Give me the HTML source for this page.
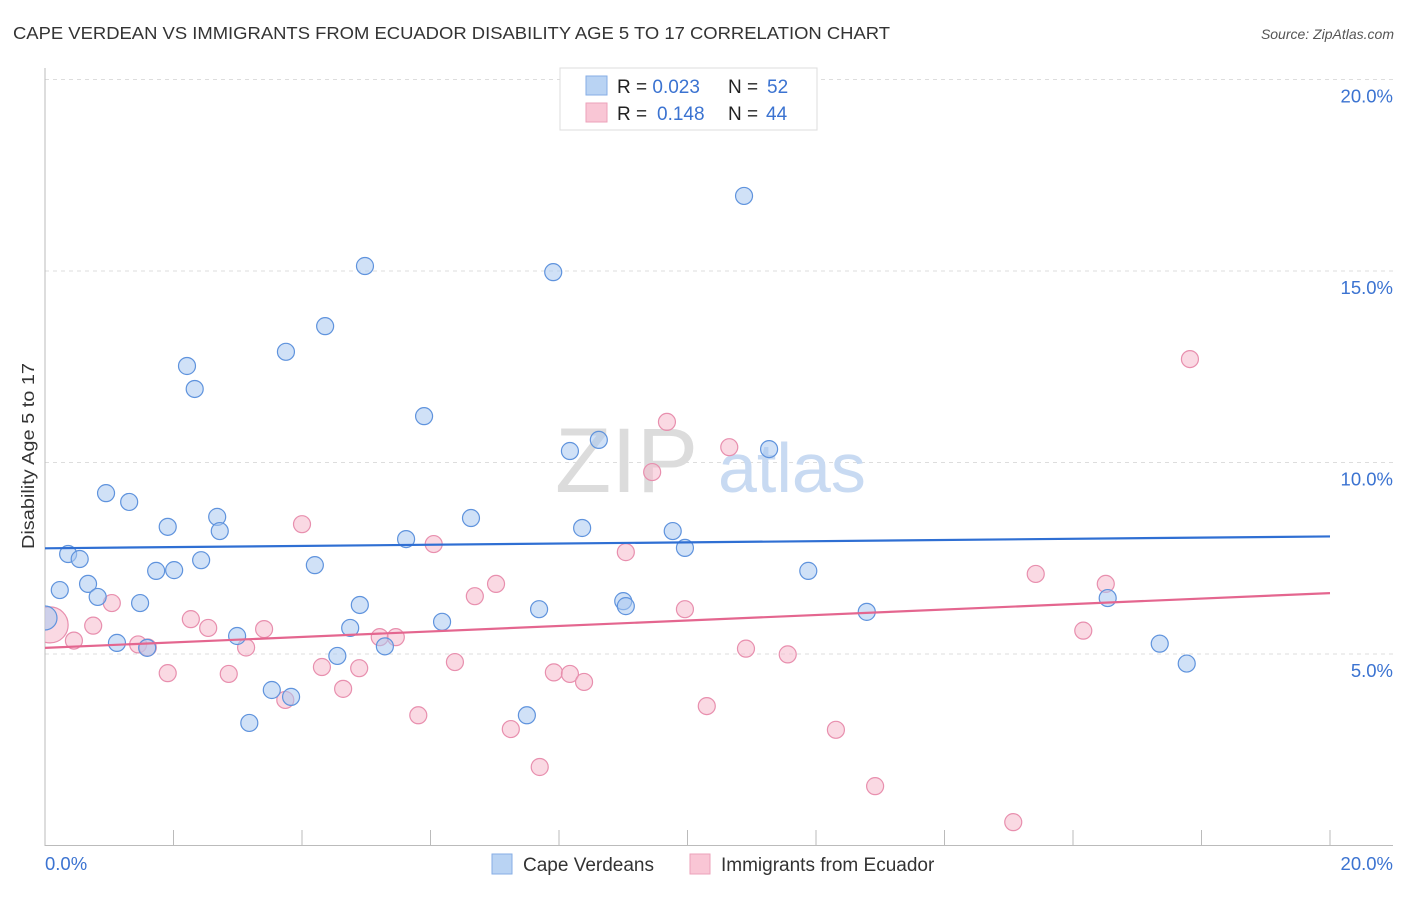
<!DOCTYPE html>
<html><head><meta charset="utf-8"><style>
body{margin:0;background:#fff;font-family:"Liberation Sans",sans-serif;}
svg text{font-family:"Liberation Sans",sans-serif;}
</style></head><body>
<svg id="chart" width="1406" height="892">
<text x="13" y="39" font-size="17.5" fill="#333" textLength="877" lengthAdjust="spacingAndGlyphs">CAPE VERDEAN VS IMMIGRANTS FROM ECUADOR DISABILITY AGE 5 TO 17 CORRELATION CHART</text>
<text x="1394" y="39" font-size="14" fill="#555" text-anchor="end" font-style="italic">Source: ZipAtlas.com</text>
<text transform="translate(34,456) rotate(-90)" font-size="17.5" fill="#333" text-anchor="middle" textLength="186" lengthAdjust="spacingAndGlyphs">Disability Age 5 to 17</text>
<g id="grid"></g>
<g id="axes"></g>
<g>
<text x="555" y="492" font-size="92" fill="#dcdcdc" font-family="Liberation Serif">ZIP</text>
<text x="718" y="492" font-size="70" fill="#c8daf2">atlas</text>
</g>
<defs><clipPath id="pc"><rect x="45" y="60" width="1350" height="786"/></clipPath></defs>
<g id="points" clip-path="url(#pc)"></g>
<g id="trends"></g>
<g>
<rect x="560" y="68" width="257" height="62" fill="#fff" stroke="#ddd"/>
<rect x="586" y="76" width="21" height="19" fill="#b9d3f3" stroke="#86aee6"/>
<rect x="586" y="103" width="21" height="19" fill="#f9c6d5" stroke="#eca2ba"/>
<text x="617" y="93" font-size="19" fill="#222">R = <tspan fill="#3b73d1">0.023</tspan><tspan x="728">N = </tspan><tspan x="767" fill="#3b73d1">52</tspan></text>
<text x="617" y="120" font-size="19" fill="#222">R = <tspan x="657" fill="#3b73d1">0.148</tspan><tspan x="728">N = </tspan><tspan x="766" fill="#3b73d1">44</tspan></text>
</g>
<g>
<rect x="492" y="854" width="20" height="20" fill="#b9d3f3" stroke="#86aee6"/>
<text x="523" y="871" font-size="19" fill="#333">Cape Verdeans</text>
<rect x="690" y="854" width="20" height="20" fill="#f9c6d5" stroke="#eca2ba"/>
<text x="721" y="871" font-size="19" fill="#333">Immigrants from Ecuador</text>
</g>
</svg>
<script>
const yTicks=[5,10,15,20];
const yTickLabels=["5.0%","10.0%","15.0%","20.0%"];
const xTickLabels=["0.0%","20.0%"];
const blueX=[0.00,0.23,0.36,0.54,0.67,0.82,0.95,1.12,1.31,1.48,1.59,1.73,1.91,2.01,2.21,2.33,2.43,2.68,2.72,2.99,3.18,3.53,3.75,3.83,4.20,4.36,4.55,4.75,4.90,4.98,5.29,5.62,5.90,6.18,6.63,7.50,7.69,7.91,8.17,8.36,8.62,9.00,9.04,9.77,9.96,10.88,11.27,11.88,12.79,16.54,17.35,17.77];
const blueY=[5.94,6.67,7.61,7.48,6.83,6.49,9.20,5.29,8.97,6.33,5.16,7.17,8.32,7.19,12.52,11.92,7.45,8.58,8.21,5.47,3.20,4.06,12.89,3.88,7.32,13.56,4.95,5.68,6.28,15.13,5.20,8.00,11.21,5.84,8.55,3.40,6.17,14.97,10.30,8.29,10.59,6.38,6.25,8.21,7.77,16.96,10.35,7.17,6.10,6.46,5.27,4.75];
const pinkX=[0.08,0.45,0.75,1.04,1.45,1.60,1.91,2.27,2.54,2.86,3.13,3.41,3.74,4.00,4.31,4.64,4.89,5.21,5.46,5.81,6.05,6.38,6.69,7.02,7.25,7.70,7.92,8.17,8.39,9.04,9.45,9.68,9.96,10.30,10.65,10.91,11.56,12.31,12.92,15.07,15.42,16.16,16.51,17.82];
const pinkY=[5.76,5.35,5.74,6.33,5.25,5.17,4.50,5.91,5.68,4.48,5.17,5.65,3.80,8.39,4.66,4.09,4.63,5.44,5.44,3.40,7.87,4.79,6.51,6.83,3.04,2.05,4.52,4.48,4.27,7.66,9.75,11.06,6.17,3.64,10.40,5.14,4.99,3.02,1.55,0.61,7.09,5.61,6.83,12.70];
const blueTrend=[7.76,8.07];
const pinkTrend=[5.16,6.59];

const NS="http://www.w3.org/2000/svg";
const X=v=>45+v*64.25;
const Y=v=>845.5-v*38.3;
function mk(tag,attrs,parent){const e=document.createElementNS(NS,tag);for(const k in attrs)e.setAttribute(k,attrs[k]);parent.appendChild(e);return e;}
const grid=document.getElementById('grid'),axes=document.getElementById('axes');
yTicks.forEach((t,i)=>{
  const l=mk('line',{x1:45,x2:1393,y1:Y(t),y2:Y(t),stroke:'#ddd','stroke-dasharray':'4,4'},grid);
  
  
  const tx=mk('text',{x:1393,y:Y(t)+23,'font-size':18.5,fill:'#3b73d1','text-anchor':'end'},axes);
  tx.textContent=yTickLabels[i];
  
  
});
let a=mk('line',{x1:45,x2:45,y1:68,y2:846,stroke:'#bbb'},axes);


a=mk('line',{x1:45,x2:1393,y1:845.5,y2:845.5,stroke:'#bbb'},axes);


for(let i=0;i<=10;i++){
  const tk=mk('line',{x1:X(i*2),x2:X(i*2),y1:830,y2:846,stroke:'#bbb'},axes);
  
  
}
[[0,'start',45],[20,'end',1393]].forEach((d,i)=>{
  const tx=mk('text',{x:d[2],y:870,'font-size':18.5,fill:'#3b73d1','text-anchor':d[1]},axes);
  tx.textContent=xTickLabels[i];
  
  
});
const pts=document.getElementById('points');
function drawPts(xs,ys,fill,stroke,name,bigR){
  xs.forEach((x,i)=>{
    const r=(i===0)?bigR:8.5;
    const c=mk('circle',{cx:X(x),cy:Y(ys[i]),r:r,fill:fill,'fill-opacity':0.55,stroke:stroke,'stroke-width':1.2},pts);
    
    
  });
}
drawPts(pinkX,pinkY,'#f6b9cc','#e88fae','point-ecuador',18);
drawPts(blueX,blueY,'#a9c8f0','#5f93dd','point-cape-verdean',12);
const tr=document.getElementById('trends');
let ln=mk('line',{x1:X(0),y1:Y(blueTrend[0]),x2:X(20),y2:Y(blueTrend[1]),stroke:'#2f6fd3','stroke-width':2.2},tr);


ln=mk('line',{x1:X(0),y1:Y(pinkTrend[0]),x2:X(20),y2:Y(pinkTrend[1]),stroke:'#e4668f','stroke-width':2.2},tr);


</script>
</body></html>
